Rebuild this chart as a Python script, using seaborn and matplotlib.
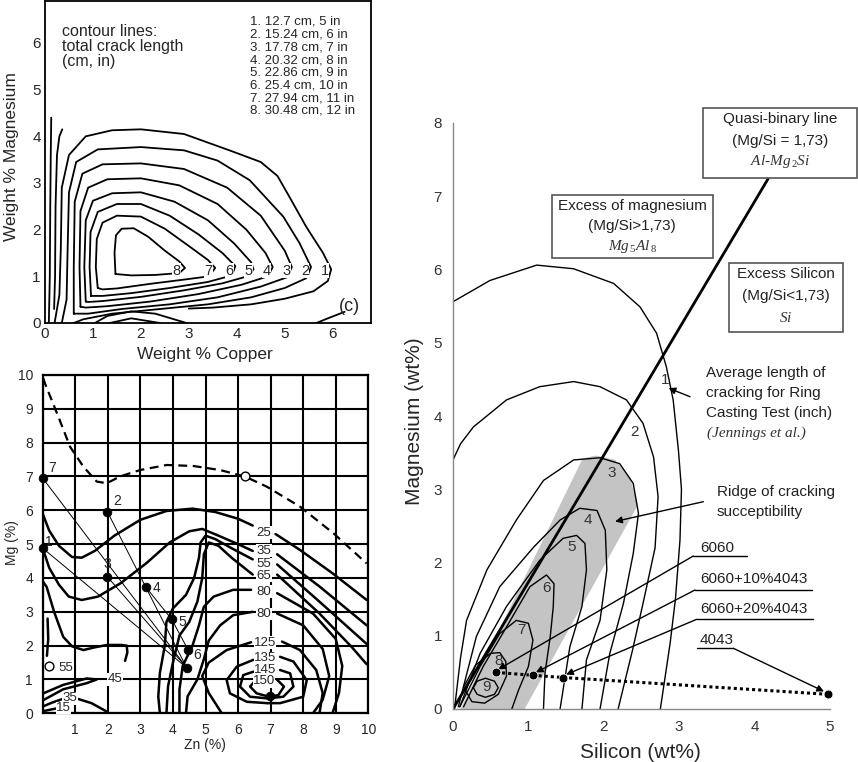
import matplotlib
matplotlib.use("Agg")
import matplotlib.pyplot as plt
import seaborn as sns
import pandas as pd
from matplotlib.patches import Rectangle, Polygon

W, H = 858, 762

# ---------- top-left panel (c): crack length vs Cu / Mg ----------
cu_mg_legend = ["1. 12.7 cm, 5 in", "2. 15.24 cm, 6 in", "3. 17.78 cm, 7 in",
                "4. 20.32 cm, 8 in", "5. 22.86 cm, 9 in", "6. 25.4 cm, 10 in",
                "7. 27.94 cm, 11 in", "8. 30.48 cm, 12 in"]
cu_mg_labels = ["1", "2", "3", "4", "5", "6", "7", "8"]
cu_mg_label_x = [5.83, 5.42, 5.03, 4.62, 4.24, 3.85, 3.40, 2.74]

a1 = [(0.2, 0.0), (0.3, 0.6), (0.33, 1.6), (0.35, 2.9), (0.5, 3.6), (0.85, 4.0), (1.4, 4.13),
      (2.0, 4.15), (2.9, 4.05), (3.9, 3.68), (4.5, 3.45), (4.85, 3.15), (5.1, 2.7), (5.45, 2.06),
      (5.8, 1.5), (5.97, 1.15), (5.9, 0.9), (5.6, 0.68), (5.0, 0.52), (4.3, 0.4), (3.5, 0.33), (3.0, 0.31)]
a2 = [(0.35, 0.0), (0.45, 0.5), (0.47, 1.5), (0.5, 2.8), (0.65, 3.45), (1.1, 3.72), (2.0, 3.77),
      (2.9, 3.7), (3.6, 3.48), (4.27, 3.06), (4.97, 2.28), (5.31, 1.71), (5.55, 1.2), (5.45, 0.96),
      (5.0, 0.75), (4.3, 0.55), (3.4, 0.4), (2.4, 0.3), (1.4, 0.2), (0.8, 0.08), (0.6, 0.0)]
a3 = [(0.6, 0.2), (0.6, 1.2), (0.62, 2.6), (0.78, 3.2), (1.2, 3.4), (2.0, 3.42), (2.9, 3.3),
      (3.8, 2.9), (4.5, 2.3), (5.0, 1.55), (5.15, 1.2), (5.05, 0.98), (4.5, 0.78), (3.6, 0.55),
      (2.6, 0.4), (1.6, 0.3), (0.9, 0.2), (0.6, 0.2)]
a4 = [(0.74, 0.35), (0.72, 1.2), (0.74, 2.4), (0.9, 2.9), (1.3, 3.08), (2.0, 3.1), (2.8, 2.95),
      (3.6, 2.55), (4.2, 2.0), (4.6, 1.5), (4.75, 1.2), (4.65, 1.0), (4.1, 0.82), (3.2, 0.62),
      (2.2, 0.46), (1.3, 0.36), (0.85, 0.33), (0.74, 0.35)]
a5 = [(0.85, 0.46), (0.82, 1.2), (0.85, 2.2), (1.0, 2.62), (1.4, 2.78), (2.0, 2.8), (2.7, 2.6),
      (3.4, 2.2), (3.95, 1.7), (4.3, 1.3), (4.35, 1.15), (4.22, 1.0), (3.7, 0.85), (2.9, 0.7),
      (2.0, 0.56), (1.2, 0.47), (0.9, 0.45), (0.85, 0.46)]
a6 = [(0.96, 0.58), (0.93, 1.2), (0.95, 1.95), (1.1, 2.38), (1.5, 2.55), (2.0, 2.55), (2.6, 2.3),
      (3.2, 1.9), (3.7, 1.5), (3.97, 1.22), (3.9, 1.02), (3.4, 0.88), (2.6, 0.75), (1.8, 0.64),
      (1.2, 0.58), (0.96, 0.58)]
a7 = [(1.1, 0.75), (1.06, 1.2), (1.08, 1.8), (1.2, 2.15), (1.5, 2.3), (2.0, 2.28), (2.5, 2.02),
      (3.0, 1.65), (3.4, 1.35), (3.55, 1.18), (3.42, 1.0), (2.9, 0.93), (2.2, 0.84), (1.5, 0.74),
      (1.2, 0.72), (1.1, 0.75)]
a8 = [(1.47, 1.05), (1.45, 1.5), (1.48, 1.88), (1.6, 2.02), (1.85, 2.03), (2.15, 1.85), (2.5, 1.55),
      (2.8, 1.32), (2.92, 1.18), (2.8, 1.07), (2.3, 1.03), (1.8, 1.02), (1.47, 1.05)]
a_left1 = [(0.08, 0.0), (0.1, 1.0), (0.11, 2.5), (0.12, 3.6), (0.13, 4.4)]
a_left2 = [(0.19, 0.3), (0.21, 1.0), (0.22, 2.5), (0.25, 3.6), (0.3, 4.0), (0.36, 4.15)]
a_dome1 = [(1.04, 0.0), (1.3, 0.15), (1.8, 0.25), (2.3, 0.2), (2.95, 0.0)]
a_dome2 = [(1.35, 0.0), (1.8, 0.1), (2.4, 0.0)]
a_corner = [(5.66, 0.0), (5.9, 0.1), (6.25, 0.24)]
cu_mg_curves = [a1, a2, a3, a4, a5, a6, a7, a8, a_left1, a_left2, a_dome1, a_dome2, a_corner]

# ---------- bottom-left panel: Zn / Mg ----------
dash_curve = [(0.02, 9.9), (0.07, 9.75), (0.48, 8.77), (0.84, 7.88), (1.25, 7.29), (1.66, 6.85),
              (1.97, 6.8), (2.37, 7.0), (2.99, 7.19), (3.81, 7.34), (4.63, 7.31), (5.45, 7.19),
              (6.21, 7.0), (6.88, 6.7), (7.9, 6.11), (8.93, 5.32), (9.95, 4.43)]
alloy_names = ["7", "2", "1", "3", "4", "5", "6"]
alloy_zn = [0.0, 1.99, 0.0, 1.99, 3.16, 3.96, 4.47]
alloy_mg = [6.95, 5.95, 4.88, 4.03, 3.74, 2.78, 1.87]
alloy_lab_zn = [0.28, 2.29, 0.2, 1.99, 3.48, 4.3, 4.73]
alloy_lab_mg = [7.24, 6.28, 5.05, 4.4, 3.69, 2.71, 1.72]
extra_zn = [4.42, 6.98]
extra_mg = [1.35, 0.5]
open_zn = [6.2, 0.2]
open_mg = [7.0, 1.4]
tie_lines = [[(0.0, 6.95), (4.42, 1.35)], [(0.0, 4.88), (4.42, 1.35)], [(1.99, 4.03), (4.42, 1.35)],
             [(1.99, 5.95), (3.16, 3.74), (3.96, 2.78), (4.47, 1.87)], [(3.16, 3.74), (4.42, 1.35)]]

b25a = [(0, 5.9), (0.2, 5.4), (0.5, 4.95), (0.9, 4.62), (1.2, 4.6), (1.6, 4.8), (2.2, 5.25), (3.0, 5.72),
        (3.8, 5.98), (4.6, 6.05), (5.3, 5.95), (6.0, 5.75), (6.45, 5.55)]
b25b = [(7.15, 5.3), (7.9, 4.83), (8.9, 4.14), (9.95, 3.35)]
b35a = [(0, 4.88), (0.2, 4.3), (0.5, 3.8), (0.8, 3.45), (1.2, 3.35), (1.7, 3.45), (2.4, 3.85), (3.2, 4.45),
        (3.9, 5.05), (4.5, 5.38), (4.9, 5.45), (5.4, 5.25), (6.0, 5.0), (6.45, 4.8)]
b35b = [(7.2, 4.7), (8.5, 3.75), (9.95, 2.6)]
b45 = [(0.0, 3.9), (0.12, 3.74), (0.35, 3.0), (0.63, 2.26), (0.9, 1.98), (1.25, 1.87), (1.6, 1.95),
       (1.97, 2.02), (2.4, 2.02), (2.58, 2.0), (2.6, 1.8), (2.53, 1.55)]
b55a = [(6.45, 4.55), (5.8, 4.88), (5.3, 5.15), (5.0, 5.25), (4.85, 5.05), (4.8, 4.6), (4.65, 4.0),
        (4.4, 3.5), (4.0, 3.1), (3.8, 2.7), (3.75, 2.0), (3.6, 1.2), (3.55, 0.5), (3.6, 0)]
b55b = [(7.2, 4.4), (8.5, 3.3), (9.95, 2.05)]
b65a = [(6.45, 4.1), (5.8, 4.6), (5.4, 4.95), (5.1, 5.05), (4.95, 4.7), (4.9, 4.0), (4.75, 3.3),
        (4.5, 2.7), (4.2, 2.3), (4.0, 1.5), (3.85, 0.8), (3.8, 0)]
b65b = [(7.2, 4.1), (8.5, 2.95), (9.5, 1.95), (9.95, 1.45)]
b80a = [(6.4, 3.65), (5.85, 3.65), (5.25, 3.45), (4.95, 3.15), (4.8, 2.6), (4.6, 2.0), (4.3, 1.4),
        (4.2, 0.7), (4.2, 0)]
b80a_r = [(7.2, 3.55), (8.3, 2.95), (9.0, 2.2), (9.2, 1.4), (9.1, 0.6), (8.9, 0.0)]
b80b = [(6.45, 3.0), (5.85, 2.9), (5.45, 2.6), (5.1, 2.15), (4.95, 1.6), (4.75, 1.0), (4.45, 0.5), (4.4, 0)]
b80b_r = [(7.2, 2.95), (8.0, 2.6), (8.6, 1.9), (8.8, 1.1), (8.6, 0.4), (8.3, 0.0)]
b125a = [(6.4, 2.1), (5.65, 1.87), (5.1, 1.5), (4.9, 1.1), (5.1, 0.6), (5.5, 0.0)]
b125b = [(7.35, 2.12), (7.9, 1.87), (8.4, 1.28), (8.6, 0.6), (8.5, 0.0)]
b135a = [(6.47, 1.58), (5.96, 1.38), (5.65, 0.98), (5.75, 0.59), (6.27, 0.34), (6.9, 0.3)]
b135b = [(7.29, 1.67), (7.7, 1.53), (8.11, 0.98), (8.0, 0.49), (7.29, 0.3), (6.9, 0.3)]
b145a = [(6.47, 1.23), (6.16, 1.13), (6.06, 0.79), (6.37, 0.49), (6.9, 0.44)]
b145b = [(7.29, 1.28), (7.6, 1.18), (7.7, 0.79), (7.39, 0.49), (6.9, 0.44)]
b150a = [(6.52, 0.96), (6.37, 0.79), (6.57, 0.59), (6.95, 0.49)]
b150b = [(7.19, 1.0), (7.41, 0.79), (7.24, 0.54), (6.98, 0.49)]
b55_left = [(0.15, 2.8), (0.17, 2.2), (0.13, 1.7)]
b45_tongue = [(0.02, 0.59), (0.63, 0.84), (1.35, 1.03), (1.66, 1.0), (1.35, 0.89), (0.63, 0.71), (0.02, 0.39)]
b35_low = [(0.0, 0.2), (0.3, 0.32), (0.6, 0.42)]
b35_low_r = [(1.1, 0.42), (1.5, 0.3), (1.97, 0.05)]
b15_low = [(0.0, 0.06), (0.4, 0.14)]
zn_mg_curves = [b25a, b25b, b35a, b35b, b45, b55a, b55b, b65a, b65b, b80a, b80a_r, b80b, b80b_r,
                b125a, b125b, b135a, b135b, b145a, b145b, b150a, b150b, b55_left, b45_tongue,
                b35_low, b35_low_r, b15_low]
zn_mg_levels = ["25", "35", "55", "65", "80", "80", "125", "135", "145", "150", "55", "45", "35", "15"]
zn_mg_level_x = [6.8, 6.8, 6.8, 6.8, 6.8, 6.8, 6.83, 6.83, 6.83, 6.8, 0.72, 2.22, 0.84, 0.63]
zn_mg_level_y = [5.34, 4.81, 4.42, 4.06, 3.6, 2.94, 2.09, 1.63, 1.28, 0.94, 1.33, 1.0, 0.44, 0.15]

# ---------- right panel: Si / Mg ----------
c1 = [(0.0, 5.56), (0.49, 5.85), (1.11, 6.06), (1.6, 6.01), (2.13, 5.81), (2.48, 5.49), (2.7, 5.13),
      (2.83, 4.67), (2.92, 4.22), (2.99, 3.53), (3.03, 3.0), (3.01, 2.3), (2.95, 1.5), (2.88, 0.9), (2.75, 0.0)]
c2 = [(0.0, 3.4), (0.1, 3.62), (0.27, 3.85), (0.71, 4.22), (1.15, 4.4), (1.6, 4.47), (1.95, 4.4),
      (2.3, 4.22), (2.52, 3.9), (2.66, 3.44), (2.72, 2.9), (2.68, 2.2), (2.52, 1.44), (2.38, 0.8), (2.19, 0.0)]
c3 = [(0.02, 0.0), (0.1, 0.7), (0.18, 1.21), (0.45, 1.9), (0.84, 2.58), (1.2, 3.12), (1.6, 3.4),
      (1.95, 3.43), (2.21, 3.35), (2.39, 3.08), (2.46, 2.67), (2.39, 2.12), (2.26, 1.44), (2.08, 0.76), (1.95, 0.0)]
c4 = [(0.07, 0.03), (0.31, 0.99), (0.62, 1.67), (1.07, 2.21), (1.42, 2.58), (1.68, 2.74), (1.91, 2.71),
      (2.02, 2.44), (2.04, 1.9), (1.95, 1.21), (1.77, 0.67), (1.71, 0.0)]
c5 = [(0.09, 0.03), (0.36, 0.76), (0.71, 1.4), (1.15, 2.03), (1.46, 2.33), (1.64, 2.37), (1.75, 2.26),
      (1.77, 1.9), (1.71, 1.4), (1.55, 0.85), (1.42, 0.0)]
c6 = [(0.14, 0.03), (0.4, 0.58), (0.71, 1.12), (1.02, 1.67), (1.24, 1.83), (1.34, 1.71), (1.33, 1.4),
      (1.29, 0.99), (1.22, 0.49), (1.2, 0.0)]
c7 = [(0.09, 0.03), (0.36, 0.58), (0.62, 1.03), (0.84, 1.21), (1.0, 1.17), (1.06, 0.94), (1.0, 0.58),
      (0.87, 0.26), (0.78, 0.0)]
c8 = [(0.14, 0.3), (0.3, 0.6), (0.5, 0.76), (0.62, 0.77), (0.7, 0.65), (0.71, 0.45), (0.6, 0.2),
      (0.42, 0.08), (0.25, 0.1), (0.14, 0.3)]
c9 = [(0.27, 0.29), (0.32, 0.38), (0.43, 0.42), (0.55, 0.38), (0.6, 0.29), (0.55, 0.2), (0.43, 0.16),
      (0.32, 0.2), (0.27, 0.29)]
si_mg_curves = [c1, c2, c3, c4, c5, c6, c7, c8, c9]
si_mg_labels = ["1", "2", "3", "4", "5", "6", "7", "8", "9"]
si_mg_label_x = [2.81, 2.41, 2.1, 1.79, 1.57, 1.24, 0.91, 0.6, 0.44]
si_mg_label_y = [4.49, 3.78, 3.22, 2.58, 2.21, 1.65, 1.08, 0.65, 0.3]
quasi_si = [0.0, 4.18]
quasi_mg = [0.0, 7.24]
ridge_band = [(0.1, 0.0), (1.72, 3.42), (1.9, 3.46), (2.15, 3.4), (2.35, 3.15), (2.45, 2.78), (0.95, 0.0)]
alloy_si = [0.57, 1.06, 1.46, 4.98]
alloy_mg_c = [0.5, 0.46, 0.43, 0.2]
alloy_c_names = ["6060", "6060+10%4043", "6060+20%4043", "4043"]


def draw(ax, pts, lw=1.0, color="black", **kw):
    df = pd.DataFrame(pts, columns=["x", "y"])
    sns.lineplot(data=df, x="x", y="y", sort=False, estimator=None, ax=ax,
                 color=color, lw=lw, **kw)


def fx(px):
    return px / W


def fy(py):
    return 1 - py / H


sns.set_style("white")
plt.rcParams["font.family"] = ["Liberation Sans", "DejaVu Sans"]
plt.rcParams["mathtext.fontset"] = "custom"
plt.rcParams["mathtext.it"] = "Liberation Serif:italic"
plt.rcParams["mathtext.rm"] = "Liberation Serif"

fig = plt.figure(figsize=(W / 100, H / 100), dpi=100)
fig.patch.set_facecolor("white")
white_box = dict(facecolor="white", edgecolor="none", pad=0.3)

# ---- panel A
axA = fig.add_axes([fx(45), fy(323), 326 / W, 322 / H])
for pts in cu_mg_curves:
    draw(axA, pts, lw=1.3)
for lab, x in zip(cu_mg_labels, cu_mg_label_x):
    axA.text(x, 1.12, lab, fontsize=10.5, ha="center", va="center", bbox=white_box, zorder=4)
for i, s in enumerate(cu_mg_legend):
    axA.text(4.27, 6.45 - 0.272 * i, s, fontsize=9.5, ha="left", va="center")
for i, s in enumerate(["contour lines:", "total crack length", "(cm, in)"]):
    axA.text(0.35, 6.24 - 0.32 * i, s, fontsize=11.5, ha="left", va="center")
axA.text(6.35, 0.35, "(c)", fontsize=13, ha="center", va="center")
axA.set_xlim(0, 6.8)
axA.set_ylim(0, 6.9)
axA.set_xticks(range(0, 7))
axA.set_yticks(range(0, 7))
axA.tick_params(direction="in", length=4, width=1, labelsize=11, pad=3)
axA.set_xlabel("")
axA.set_ylabel("")
for sp in axA.spines.values():
    sp.set_linewidth(1.3)
    sp.set_color("black")
fig.text(fx(205), fy(355), "Weight % Copper", fontsize=12.5, ha="center", va="center")
fig.text(fx(12), fy(157), "Weight % Magnesium", fontsize=12.5, ha="center", va="center", rotation=90)

# ---- panel B
axB = fig.add_axes([fx(42.7), fy(713.3), 325.6 / W, 338.3 / H])
axB.set_xlim(0, 10)
axB.set_ylim(0, 10)
axB.set_xticks(range(0, 11))
axB.set_yticks(range(0, 11))
axB.set_xticklabels([""] + [str(i) for i in range(1, 11)])
axB.grid(True, color="black", lw=1.5)
axB.set_axisbelow(True)
axB.tick_params(length=0, labelsize=10, pad=7)
for sp in axB.spines.values():
    sp.set_linewidth(1.6)
    sp.set_color("black")
draw(axB, dash_curve, lw=1.6, linestyle=(0, (4, 2.5)))
for pts in tie_lines:
    draw(axB, pts, lw=0.7)
for pts in zn_mg_curves:
    draw(axB, pts, lw=1.8)
sns.scatterplot(x=alloy_zn + extra_zn, y=alloy_mg + extra_mg, ax=axB, color="black", s=40,
                edgecolor="black", zorder=5, clip_on=False)
sns.scatterplot(x=open_zn, y=open_mg, ax=axB, color="white", s=40, edgecolor="black",
                linewidth=1.0, zorder=5)
for lab, x, y in zip(alloy_names, alloy_lab_zn, alloy_lab_mg):
    axB.text(x, y, lab, fontsize=10, ha="center", va="center")
for lab, x, y in zip(zn_mg_levels, zn_mg_level_x, zn_mg_level_y):
    axB.text(x, y, lab, fontsize=9.5, ha="center", va="center", zorder=6,
             bbox=dict(facecolor="white", edgecolor="none", pad=0.2))
axB.set_xlabel("")
axB.set_ylabel("")
fig.text(fx(205), fy(745), "Zn (%)", fontsize=10, ha="center", va="center")
fig.text(fx(12), fy(543), "Mg (%)", fontsize=10, ha="center", va="center", rotation=90)

# ---- panel C
axC = fig.add_axes([fx(453), fy(709), 377 / W, 586 / H])
axC.set_xlim(0, 5)
axC.set_ylim(0, 8)
axC.add_patch(Polygon(ridge_band, closed=True, facecolor="#c4c4c4", edgecolor="none", zorder=0))
for pts in si_mg_curves:
    draw(axC, pts, lw=1.0)
sns.lineplot(x=quasi_si, y=quasi_mg, ax=axC, color="black", lw=2.0, sort=False, estimator=None)
sns.lineplot(x=alloy_si, y=alloy_mg_c, ax=axC, color="black", lw=2.2, sort=False, estimator=None,
             linestyle=(0, (1, 1)))
sns.scatterplot(x=alloy_si, y=alloy_mg_c, ax=axC, color="black", s=40, zorder=5, clip_on=False)
for lab, x, y in zip(si_mg_labels, si_mg_label_x, si_mg_label_y):
    axC.text(x, y, lab, fontsize=11, ha="center", va="center", color="#333333")
axC.set_xticks(range(0, 6))
axC.set_yticks(range(0, 9))
axC.tick_params(direction="out", length=4, width=1, color="#888888", labelcolor="#333333",
                labelsize=11, pad=4)
sns.despine(ax=axC)
for sp in ["left", "bottom"]:
    axC.spines[sp].set_color("#888888")
    axC.spines[sp].set_linewidth(1.0)
axC.set_xlabel("")
axC.set_ylabel("")
fig.text(fx(640), fy(752), "Silicon (wt%)", fontsize=15, ha="center", va="center")
fig.text(fx(414), fy(421), "Magnesium (wt%)", fontsize=15, ha="center", va="center", rotation=90)

# boxes
boxes = [((703.3, 108.3, 856.7, 178.3), 780, [119.3, 140.7, 161.7],
          ["Quasi-binary line", "(Mg/Si = 1,73)", r"$Al$-$Mg_{\,2}Si$"]),
         ((551.7, 195, 713.3, 258.3), 632.3, [205.7, 226, 246.7],
          ["Excess of magnesium", "(Mg/Si>1,73)", r"$Mg_{\,5}Al_{\,8}$"]),
         ((729.3, 263.3, 843.3, 331.7), 786, [274.3, 296, 318.3],
          ["Excess Silicon", "(Mg/Si<1,73)", r"$Si$"])]
for (x0, y0, x1, y1), cx, ys, lines in boxes:
    fig.add_artist(Rectangle((fx(x0), fy(y1)), (x1 - x0) / W, (y1 - y0) / H, transform=fig.transFigure,
                             facecolor="white", edgecolor="#555555", lw=1.2, zorder=3))
    for yy, s in zip(ys[:2], lines[:2]):
        fig.text(fx(cx), fy(yy), s, fontsize=11, ha="center", va="center", color="#222222", zorder=4)
    fig.text(fx(cx), fy(ys[2]), lines[2], fontsize=11, ha="center", va="center", color="#333333",
             family="Liberation Serif", style="italic", zorder=4)

for yy, s in zip([372.7, 392.7, 413.3], ["Average length of", "cracking for Ring", "Casting Test (inch)"]):
    fig.text(fx(706), fy(yy), s, fontsize=11, ha="left", va="center", color="#222222")
fig.text(fx(707), fy(433.3), "(Jennings et al.)", fontsize=11, ha="left", va="center",
         family="Liberation Serif", style="italic", color="#333333")
for yy, s in zip([491.7, 511.7], ["Ridge of cracking", "succeptibility"]):
    fig.text(fx(716.7), fy(yy), s, fontsize=11, ha="left", va="center", color="#222222")

arrow_kw = dict(arrowstyle="-|>", color="black", lw=1.0, mutation_scale=10, shrinkA=0, shrinkB=0)
axC.annotate("", xy=(2.86, 4.38), xycoords="data", xytext=(fx(690), fy(396.7)),
             textcoords="figure fraction", arrowprops=arrow_kw)
axC.annotate("", xy=(2.15, 2.56), xycoords="data", xytext=(fx(703.3), fy(501.7)),
             textcoords="figure fraction", arrowprops=arrow_kw)

leader_text_y = [548.3, 579.3, 609, 640]
leader_line = [(693.3, 746.7, 556), (695, 811.7, 590), (696.7, 813.3, 619.3), (696.7, 733.3, 648.3)]
leader_start = [(693.3, 556), (695, 590), (696.7, 619.3), (733.3, 648.3)]
leader_tip = [(0.6, 0.54), (1.1, 0.5), (1.5, 0.47), (4.92, 0.24)]
for name, ty, (lx0, lx1, ly), (sx, sy), tip in zip(alloy_c_names, leader_text_y, leader_line,
                                                    leader_start, leader_tip):
    fig.text(fx(700), fy(ty), name, fontsize=11, ha="left", va="center", color="#222222")
    fig.add_artist(plt.Line2D([fx(lx0), fx(lx1)], [fy(ly), fy(ly)], transform=fig.transFigure,
                              color="black", lw=1.0))
    axC.annotate("", xy=tip, xycoords="data", xytext=(fx(sx), fy(sy)),
                 textcoords="figure fraction", arrowprops=arrow_kw)

fig.savefig("out.png", dpi=100)
